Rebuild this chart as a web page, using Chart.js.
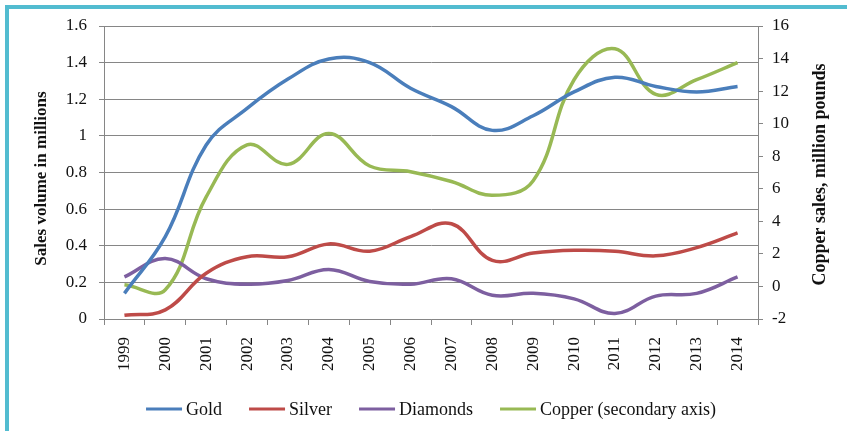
<!DOCTYPE html>
<html>
<head>
<meta charset="utf-8">
<script src="https://cdn.jsdelivr.net/npm/chart.js@4"></script>
<style>
  html, body { margin: 0; padding: 0; background: #fff; }
  #wrap { position: relative; width: 847px; height: 431px; overflow: hidden; }
  #frame {
    position: absolute; left: 5px; top: 5px; right: -10px; bottom: -10px;
    border-left: 4px solid #52bcd0; border-top: 4px solid #52bcd0;
    pointer-events: none;
  }
  canvas { position: absolute; left: 0; top: 0; }
</style>
</head>
<body>
<div id="wrap">
  <canvas id="salesChart" width="847" height="431"></canvas>
  <div id="frame"></div>
</div>
<script>
const years = ["1999", "2000", "2001", "2002", "2003", "2004", "2005", "2006",
  "2007", "2008", "2009", "2010", "2011", "2012", "2013", "2014"];

const gold = [0.14, 0.45, 0.95, 1.15, 1.31, 1.42, 1.4, 1.26, 1.16, 1.03, 1.11, 1.24, 1.32, 1.27, 1.24, 1.27];
const silver = [0.02, 0.05, 0.25, 0.34, 0.34, 0.41, 0.37, 0.45, 0.52, 0.32, 0.36, 0.375, 0.37, 0.345, 0.39, 0.47];
const diamonds = [0.23, 0.33, 0.22, 0.19, 0.21, 0.27, 0.205, 0.19, 0.22, 0.13, 0.14, 0.11, 0.03, 0.125, 0.14, 0.23];
// copper is on the secondary axis, million pounds
const copper = [0.1, -0.2, 5.5, 8.7, 7.5, 9.4, 7.4, 7.05, 6.45, 5.6, 6.5, 12.7, 14.6, 11.8, 12.7, 13.75];

const leftTitle = "Sales volume in millions";
const rightTitle = "Copper sales, million pounds";

const serif = "'Liberation Serif', 'Times New Roman', serif";
const gridGray = "#868686";
const textColor = "#111";

function line(label, data, color, axis) {
  return {
    label: label,
    data: data,
    borderColor: color,
    backgroundColor: color,
    borderWidth: 3.5,
    pointRadius: 0,
    tension: 0.4,
    fill: false,
    yAxisID: axis,
  };
}

// axis titles drawn by hand so both read bottom-to-top
const axisTitles = {
  id: "axisTitles",
  afterDraw(chart) {
    const ctx = chart.ctx;
    const area = chart.chartArea;
    const midY = (area.top + area.bottom) / 2;

    ctx.save();
    ctx.fillStyle = textColor;
    ctx.font = "bold 17px " + serif;
    ctx.textAlign = "center";
    ctx.textBaseline = "middle";
    ctx.translate(42, midY + 6);
    ctx.rotate(-Math.PI / 2);
    ctx.fillText(leftTitle, 0, 0);
    ctx.restore();

    ctx.save();
    ctx.fillStyle = textColor;
    ctx.font = "bold 18px " + serif;
    ctx.textAlign = "center";
    ctx.textBaseline = "middle";
    ctx.translate(820, midY + 2);
    ctx.rotate(-Math.PI / 2);
    ctx.fillText(rightTitle, 0, 0);
    ctx.restore();
  },
};

// Excel style legend: short line, tight gap, then the label
const lineLegend = {
  id: "lineLegend",
  afterDraw(chart) {
    const ctx = chart.ctx;
    const sample = 36;
    const gap = 4;
    const spacing = 27;
    const y = 409;
    ctx.save();
    ctx.font = "18px " + serif;
    ctx.textBaseline = "middle";
    ctx.textAlign = "left";
    const items = chart.data.datasets.map((ds) => ({
      text: ds.label,
      color: ds.borderColor,
      w: ctx.measureText(ds.label).width,
    }));
    const total = items.reduce((acc, it) => acc + sample + gap + it.w, 0) +
      spacing * (items.length - 1);
    let x = (chart.chartArea.left + chart.chartArea.right) / 2 - total / 2;
    items.forEach((it) => {
      ctx.strokeStyle = it.color;
      ctx.lineWidth = 3;
      ctx.beginPath();
      ctx.moveTo(x, y);
      ctx.lineTo(x + sample, y);
      ctx.stroke();
      x += sample + gap;
      ctx.fillStyle = textColor;
      ctx.fillText(it.text, x, y + 1);
      x += it.w + spacing;
    });
    ctx.restore();
  },
};

new Chart(document.getElementById("salesChart"), {
  type: "line",
  data: {
    labels: years,
    datasets: [
      line("Gold", gold, "#4a7ebb", "y"),
      line("Silver", silver, "#be4b48", "y"),
      line("Diamonds", diamonds, "#7d5fa0", "y"),
      line("Copper (secondary axis)", copper, "#98b954", "y1"),
    ],
  },
  options: {
    responsive: false,
    animation: false,
    layout: {
      padding: { top: 26, bottom: 0, left: 0, right: 0 },
    },
    plugins: {
      tooltip: { enabled: false },
      legend: { display: false },
    },
    scales: {
      x: {
        offset: true,
        grid: {
          offset: true,
          drawOnChartArea: false,
          drawTicks: true,
          tickLength: 6,
          color: gridGray,
        },
        border: { color: gridGray },
        ticks: {
          color: textColor,
          minRotation: 90,
          maxRotation: 90,
          padding: 12,
          font: { size: 17, family: serif },
        },
        afterFit(scale) {
          scale.height = 112;
        },
      },
      y: {
        position: "left",
        min: 0,
        max: 1.6,
        ticks: {
          stepSize: 0.2,
          color: textColor,
          padding: 12,
          font: { size: 17, family: serif },
          callback: (v) => String(Number(v.toFixed(1))),
        },
        grid: {
          color: gridGray,
          tickLength: 5,
        },
        border: { color: gridGray },
        afterFit(scale) {
          scale.width = 104;
        },
      },
      y1: {
        position: "right",
        min: -2,
        max: 16,
        ticks: {
          stepSize: 2,
          color: textColor,
          padding: 9,
          font: { size: 17, family: serif },
        },
        grid: {
          drawOnChartArea: false,
          color: gridGray,
          tickLength: 5,
        },
        border: { color: gridGray },
        afterFit(scale) {
          scale.width = 89;
        },
      },
    },
  },
  plugins: [axisTitles, lineLegend],
});
</script>
</body>
</html>
